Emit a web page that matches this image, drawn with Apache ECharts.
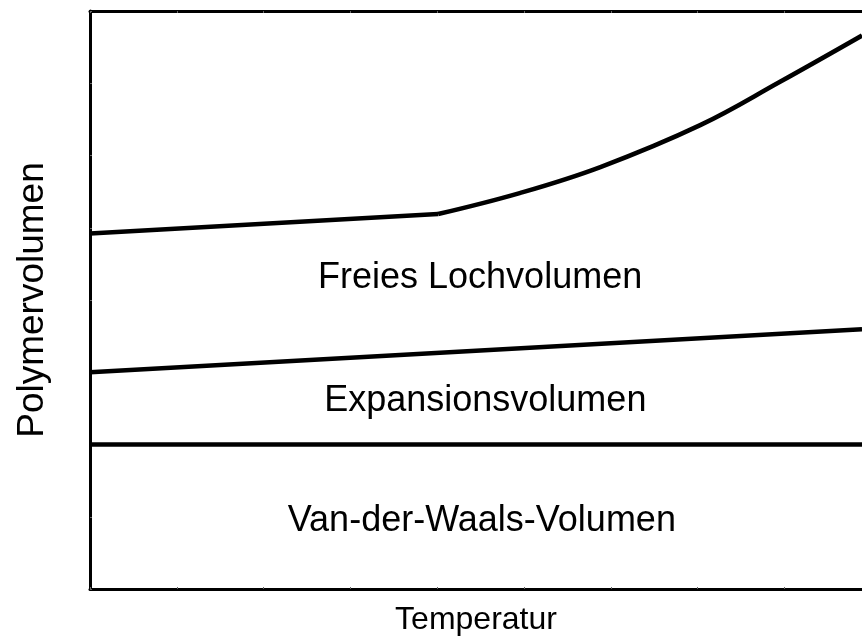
<!DOCTYPE html>
<html><head><meta charset="utf-8">
<script src="https://cdn.jsdelivr.net/npm/echarts@6/dist/echarts.min.js"></script>
<style>html,body{margin:0;padding:0;background:#fff}#c{width:862px;height:641px}</style>
</head><body><div id="c"></div>
<script>
// Data (x: Temperatur units, y: Polymervolumen units)
const xMax = 8.894;
const vdwLine = [[0, 2.0], [8.894, 2.0]];
const expansionLine = [[0, 3.0], [8.894, 3.595]];
const freeLinear = [[0, 4.92], [4.01, 5.19]];
const freeCurve = [[4.01, 5.19], [4.95, 5.48], [5.88, 5.84], [7.03, 6.42], [7.95, 7.02], [8.894, 7.66]];
const regionNames = ['Freies Lochvolumen', 'Expansionsvolumen', 'Van-der-Waals-Volumen'];
const regionX = [4.5, 4.56, 4.52];
const regionY = [4.3, 2.6, 0.93];
const xTitle = 'Temperatur';
const yTitle = 'Polymervolumen';

const font = 'Liberation Sans, Arial, sans-serif';
const lineStyle = {color: '#000', width: 4.5};
const chart = echarts.init(document.getElementById('c'), null, {renderer: 'canvas'});
const axisCommon = {
  type: 'value', min: 0, interval: 1,
  axisLine: {show: true, lineStyle: {color: '#000', width: 3}},
  axisTick: {show: true, inside: true, length: 2, lineStyle: {color: '#666', width: 1}},
  axisLabel: {show: false}, splitLine: {show: false}
};
chart.setOption({
  animation: false,
  grid: {left: 90, top: 11, width: 772, height: 578, outerBoundsMode: 'none', containLabel: false},
  xAxis: [
    Object.assign({}, axisCommon, {max: xMax, position: 'bottom', name: xTitle, nameLocation: 'middle', nameGap: 15,
      nameTextStyle: {fontFamily: font, fontSize: 32, color: '#000'}}),
    Object.assign({}, axisCommon, {max: xMax, position: 'top'})
  ],
  yAxis: [
    Object.assign({}, axisCommon, {max: 8, position: 'left', name: yTitle, nameLocation: 'middle', nameGap: 39,
      nameTextStyle: {fontFamily: font, fontSize: 37, color: '#000'}})
  ],
  series: [
    {type: 'line', data: vdwLine, symbol: 'none', lineStyle: lineStyle},
    {type: 'line', data: expansionLine, symbol: 'none', lineStyle: lineStyle},
    {type: 'line', data: freeLinear, symbol: 'none', lineStyle: lineStyle},
    {type: 'line', data: freeCurve, symbol: 'none', smooth: 0.4, lineStyle: lineStyle},
    {type: 'scatter', symbolSize: 1, silent: true, itemStyle: {opacity: 0},
      data: regionNames.map((n, i) => ({value: [regionX[i], regionY[i]], name: n})),
      label: {show: true, position: [0, 0], align: 'center', verticalAlign: 'middle', formatter: p => p.name,
        fontFamily: font, fontSize: 36, color: '#000', opacity: 1}}
  ]
});
</script></body></html>
